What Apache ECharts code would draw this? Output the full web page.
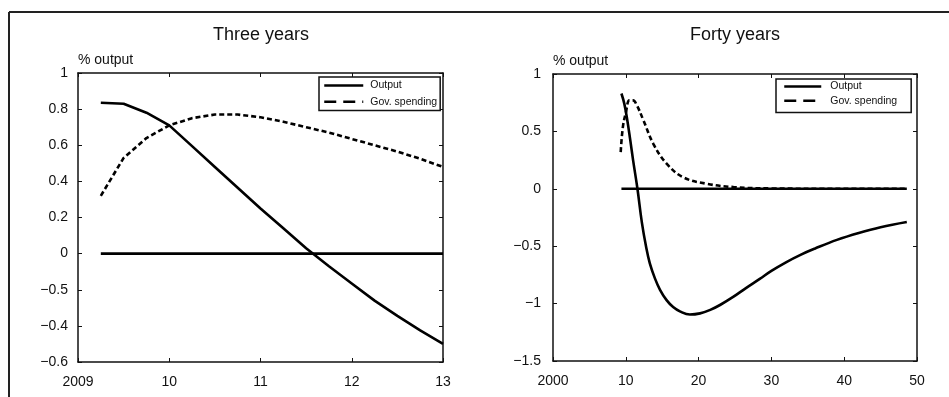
<!DOCTYPE html>
<html>
<head>
<meta charset="utf-8">
<script src="https://cdn.jsdelivr.net/npm/echarts@6/dist/echarts.min.js"></script>
<style>
html,body{margin:0;padding:0;background:#fff;}
#c{width:949px;height:397px;}
</style>
</head>
<body>
<div id="c"></div>
<script>
// ---- Left panel: Three years (quarterly) ----
const leftX = [2009.25, 2009.5, 2009.75, 2010.0, 2010.25, 2010.5, 2010.75, 2011.0, 2011.25, 2011.5, 2011.75, 2012.0, 2012.25, 2012.5, 2012.75, 2013.0];
const leftOutput = [0.835, 0.83, 0.78, 0.71, 0.595, 0.48, 0.365, 0.25, 0.14, 0.03, -0.07, -0.165, -0.26, -0.345, -0.425, -0.50];
const leftGov = [0.32, 0.53, 0.64, 0.71, 0.75, 0.77, 0.77, 0.755, 0.73, 0.70, 0.67, 0.635, 0.60, 0.565, 0.525, 0.48];
const leftZeroX = [2009.25, 2013.0];
const leftZero = [0, 0];
const leftXTickLabels = ["2009", "10", "11", "12", "13"];
const leftYTickLabels = ["\u22120.6", "\u22120.4", "\u22120.5", "0", "0.2", "0.4", "0.6", "0.8", "1"];

// ---- Right panel: Forty years ----
const rightOutX = [2009.4, 2009.8, 2010.2, 2010.6, 2011.0, 2011.6, 2012.2, 2012.8, 2013.3, 2014.0, 2014.7, 2015.6, 2016.5, 2017.5, 2018.8, 2020.2, 2021.6, 2023.0, 2024.8, 2026.5, 2028.4, 2030.0, 2032.0, 2034.0, 2036.0, 2039.0, 2042.0, 2045.0, 2048.6];
const rightOutput = [0.83, 0.74, 0.60, 0.43, 0.25, 0.0, -0.29, -0.51, -0.65, -0.78, -0.88, -0.97, -1.03, -1.07, -1.095, -1.085, -1.055, -1.01, -0.94, -0.865, -0.785, -0.715, -0.64, -0.575, -0.52, -0.445, -0.385, -0.335, -0.29];
const rightGovX = [2009.3, 2009.6, 2010.0, 2010.5, 2011.0, 2011.5, 2012.4, 2013.8, 2015.6, 2017.9, 2021.1, 2024.8, 2030.0, 2040.0, 2048.6];
const rightGov = [0.32, 0.54, 0.66, 0.77, 0.77, 0.73, 0.60, 0.39, 0.22, 0.10, 0.044, 0.015, 0.003, 0.0, 0.0];
const rightZeroX = [2009.4, 2048.6];
const rightZero = [0, 0];
const rightXTickLabels = ["2000", "10", "20", "30", "40", "50"];
const rightYTickLabels = ["\u22121.5", "\u22121", "\u22120.5", "0", "0.5", "1"];

const titles = ["Three years", "Forty years"];
const yName = "% output";
const seriesNames = ["Output", "Gov. spending"];

const zip = (xs, ys) => xs.map((x, i) => [x, ys[i]]);
const FONT = "Liberation Sans";
const INK = "#111";

function labelFrom(arr, min, step) {
  return v => { const i = Math.round((v - min) / step); return arr[i] !== undefined ? arr[i] : ""; };
}

function mainX(grid, min, max, step, labels) {
  return {
    type: 'value', gridIndex: grid, min: min, max: max, interval: step, position: 'bottom',
    axisLine: {show: true, onZero: false, lineStyle: {color: INK, width: 1.5}},
    axisTick: {show: true, inside: true, length: 4, lineStyle: {color: INK}},
    axisLabel: {show: true, margin: 13, color: INK, fontFamily: FONT, fontSize: 14, formatter: labelFrom(labels, min, step)},
    splitLine: {show: false}
  };
}
function topX(grid, min, max, step) {
  return {
    type: 'value', gridIndex: grid, min: min, max: max, interval: step, position: 'top',
    axisLine: {show: true, onZero: false, lineStyle: {color: INK, width: 1.5}},
    axisTick: {show: true, inside: true, length: 4, lineStyle: {color: INK}},
    axisLabel: {show: false}, splitLine: {show: false}
  };
}
function mainY(grid, min, max, step, labels, margin) {
  return {
    type: 'value', gridIndex: grid, min: min, max: max, interval: step, position: 'left',
    name: yName, nameLocation: 'end', nameGap: 6,
    nameTextStyle: {align: 'left', color: INK, fontFamily: FONT, fontSize: 14},
    axisLine: {show: true, onZero: false, lineStyle: {color: INK, width: 1.5}},
    axisTick: {show: true, inside: true, length: 4, lineStyle: {color: INK}},
    axisLabel: {show: true, margin: margin, color: INK, fontFamily: FONT, fontSize: 14, formatter: labelFrom(labels, min, step)},
    splitLine: {show: false}
  };
}
function rightY(grid, min, max, step) {
  return {
    type: 'value', gridIndex: grid, min: min, max: max, interval: step, position: 'right',
    axisLine: {show: true, onZero: false, lineStyle: {color: INK, width: 1.5}},
    axisTick: {show: true, inside: true, length: 4, lineStyle: {color: INK}},
    axisLabel: {show: false}, splitLine: {show: false}
  };
}
function line(name, data, xi, yi, dashed, z) {
  return {
    type: 'line', name: name, data: data, xAxisIndex: xi, yAxisIndex: yi,
    symbol: 'none', smooth: false, silent: true, animation: false, z: z || 2,
    itemStyle: {color: '#000'},
    lineStyle: {color: '#000', width: 2.6, type: dashed ? [5, 3] : 'solid'}
  };
}
function legendAt(left, top, padding, itemWidth, itemGap, textPad) {
  return {
    left: left, top: top, orient: 'vertical', padding: padding, itemGap: itemGap,
    itemWidth: itemWidth, itemHeight: 14, borderColor: INK, borderWidth: 1.5, backgroundColor: '#fff',
    selectedMode: false,
    itemStyle: {opacity: 0},
    textStyle: {fontFamily: FONT, fontSize: 10.5, color: INK, padding: [0, 0, 0, textPad]},
    data: [
      {name: seriesNames[0], itemStyle: {opacity: 0}, lineStyle: {type: 'solid', width: 2.5, color: '#000'}},
      {name: seriesNames[1], itemStyle: {opacity: 0}, lineStyle: {type: [12, 7], width: 2.5, color: '#000'}}
    ]
  };
}

const chart = echarts.init(document.getElementById('c'), null, {renderer: 'canvas'});
chart.setOption({
  animation: false,
  backgroundColor: '#fff',
  textStyle: {fontFamily: FONT},
  title: [
    {text: titles[0], left: 261, textAlign: 'center', top: 26, padding: 0, textStyle: {fontFamily: FONT, fontSize: 18, fontWeight: 'normal', color: INK}},
    {text: titles[1], left: 735, textAlign: 'center', top: 26, padding: 0, textStyle: {fontFamily: FONT, fontSize: 18, fontWeight: 'normal', color: INK}}
  ],
  grid: [
    {left: 78, top: 73, width: 365, height: 289},
    {left: 553, top: 74, width: 364, height: 287}
  ],
  xAxis: [
    mainX(0, 2009, 2013, 1, leftXTickLabels),
    topX(0, 2009, 2013, 1),
    mainX(1, 2000, 2050, 10, rightXTickLabels),
    topX(1, 2000, 2050, 10)
  ],
  yAxis: [
    mainY(0, -0.6, 1, 0.2, leftYTickLabels, 10),
    rightY(0, -0.6, 1, 0.2),
    mainY(1, -1.5, 1, 0.5, rightYTickLabels, 12),
    rightY(1, -1.5, 1, 0.5)
  ],
  legend: [
    legendAt(319, 77, [3, 3, 3, 4], 39, 5, 2),
    legendAt(776, 79, [2, 14, 6, 7], 37, 3, 4)
  ],
  graphic: [
    {type: 'line', shape: {x1: 9, y1: 12, x2: 949, y2: 12}, style: {stroke: '#222', lineWidth: 2}, silent: true},
    {type: 'line', shape: {x1: 9, y1: 12, x2: 9, y2: 397}, style: {stroke: '#222', lineWidth: 2}, silent: true}
  ],
  series: [
    line('zero', zip(leftZeroX, leftZero), 0, 0, false, 1),
    line(seriesNames[0], zip(leftX, leftOutput), 0, 0, false, 3),
    line(seriesNames[1], zip(leftX, leftGov), 0, 0, true, 2),
    line('zero', zip(rightZeroX, rightZero), 2, 2, false, 1),
    Object.assign(line(seriesNames[0], zip(rightOutX, rightOutput), 2, 2, false, 3), {smooth: 0.4}),
    Object.assign(line(seriesNames[1], zip(rightGovX, rightGov), 2, 2, true, 2), {smooth: 0.4})
  ]
});
</script>
</body>
</html>
